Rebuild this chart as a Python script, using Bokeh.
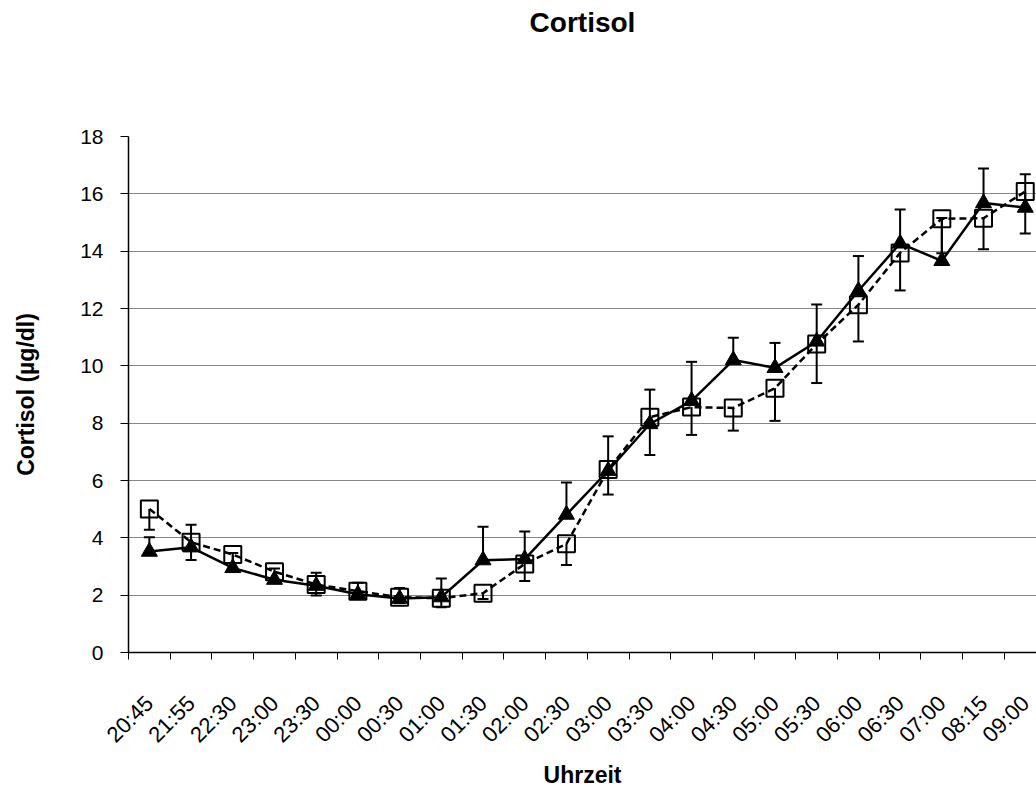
from bokeh.plotting import figure
from bokeh.models import ColumnDataSource, Range1d, FixedTicker, Whisker, TeeHead, Title
from bokeh.embed import file_html
from bokeh.resources import INLINE

times = ["20:45", "21:55", "22:30", "23:00", "23:30", "00:00", "00:30", "01:00",
         "01:30", "02:00", "02:30", "03:00", "03:30", "04:00", "04:30", "05:00",
         "05:30", "06:00", "06:30", "07:00", "08:15", "09:00"]

# series with filled triangles (solid line), error bars drawn upwards
tri_vals = [3.52, 3.67, 2.95, 2.54, 2.33, 2.03, 1.88, 1.93, 3.22, 3.26, 4.81, 6.34,
            7.97, 8.78, 10.20, 9.93, 10.85, 12.62, 14.27, 13.66, 15.68, 15.52]
tri_err = [0.50, 0.79, 0.52, 0.39, 0.45, 0.40, 0.37, 0.65, 1.17, 0.96, 1.12, 1.20,
           1.20, 1.36, 0.78, 0.87, 1.29, 1.21, 1.18, 1.50, 1.20, 1.16]

# series with open squares (dashed line), error bars drawn downwards
sq_vals = [5.01, 3.85, 3.42, 2.82, 2.37, 2.14, 1.93, 1.89, 2.07, 3.09, 3.79, 6.38,
           8.21, 8.56, 8.53, 9.22, 10.76, 12.13, 13.94, 15.13, 15.15, 16.08]
sq_err = [0.73, 0.62, 0.30, 0.30, 0.38, 0.25, 0.20, 0.31, 0.20, 0.60, 0.74, 0.87,
          1.32, 0.97, 0.79, 1.14, 1.36, 1.28, 1.31, 1.20, 1.08, 1.46]

y_ticks = [0, 2, 4, 6, 8, 10, 12, 14, 16, 18]

idx = list(range(len(times)))
tri_src = ColumnDataSource(dict(
    x=idx, y=tri_vals,
    lo=tri_vals,
    hi=[v + e for v, e in zip(tri_vals, tri_err)]))
sq_src = ColumnDataSource(dict(
    x=idx, y=sq_vals,
    lo=[v - e for v, e in zip(sq_vals, sq_err)],
    hi=sq_vals))

FONT = "Liberation Sans"

p = figure(width=1036, height=791, output_backend="svg", toolbar_location=None,
           x_range=Range1d(-0.5, 21.27), y_range=Range1d(0, 18),
           min_border_left=128, min_border_right=0, min_border_top=136,
           min_border_bottom=139)
p.outline_line_color = None
p.background_fill_color = "white"
p.border_fill_color = "white"

# spacer between frame and title
p.add_layout(Title(text=" ", text_font_size="10px", standoff=84), "above")

# title
p.title.text = "Cortisol"
p.title.align = "center"
p.title.vertical_align = "top"
p.title.text_font = FONT
p.title.text_font_size = "28px"
p.title.text_font_style = "bold"
p.title.text_color = "black"
p.title.standoff = 0

# grid
p.xgrid.visible = False
p.ygrid.ticker = FixedTicker(ticks=y_ticks[1:-1])
p.ygrid.grid_line_color = "#868686"
p.ygrid.grid_line_width = 1

# y axis
ya = p.yaxis[0]
ya.ticker = FixedTicker(ticks=y_ticks)
ya.axis_line_color = "black"
ya.axis_line_width = 1.5
ya.major_tick_line_color = "black"
ya.major_tick_out = 8
ya.major_tick_in = 0
ya.minor_tick_line_color = None
ya.major_label_standoff = 17
ya.major_label_text_font = FONT
ya.major_label_text_font_size = "21px"
ya.major_label_text_color = "black"
ya.axis_label = "Cortisol (µg/dl)"
ya.axis_label_text_font = FONT
ya.axis_label_text_font_size = "23px"
ya.axis_label_text_font_style = "bold"
ya.axis_label_text_color = "black"
ya.axis_label_standoff = 38

# x axis (categories between tick marks)
xa = p.xaxis[0]
xa.ticker = FixedTicker(ticks=idx, minor_ticks=[i - 0.5 for i in range(len(times) + 1)])
xa.major_label_overrides = {i: t for i, t in enumerate(times)}
xa.axis_line_color = "black"
xa.axis_line_width = 1.5
xa.major_tick_line_color = None
xa.minor_tick_line_color = "black"
xa.minor_tick_out = 7
xa.minor_tick_in = 0
xa.major_label_orientation = 0.785398
xa.major_label_standoff = 40
xa.major_label_text_font = FONT
xa.major_label_text_font_size = "22px"
xa.major_label_text_color = "black"
xa.axis_label = "Uhrzeit"
xa.axis_label_text_font = FONT
xa.axis_label_text_font_size = "23px"
xa.axis_label_text_font_style = "bold"
xa.axis_label_text_color = "black"
xa.axis_label_text_line_height = 1.0
xa.axis_label_standoff = 3

# squares series (dashed)
p.line("x", "y", source=sq_src, line_color="black", line_width=2.5, line_dash="7 4")
p.add_layout(Whisker(source=sq_src, base="x", upper="hi", lower="lo", dimension="height",
                     line_color="black", line_width=2, upper_head=None,
                     lower_head=TeeHead(size=11, line_color="black", line_width=2)))
p.scatter("x", "y", source=sq_src, marker="square", size=17, fill_color=None,
          line_color="black", line_width=2)

# triangles series (solid)
p.line("x", "y", source=tri_src, line_color="black", line_width=2.5)
p.add_layout(Whisker(source=tri_src, base="x", upper="hi", lower="lo", dimension="height",
                     line_color="black", line_width=2, lower_head=None,
                     upper_head=TeeHead(size=11, line_color="black", line_width=2)))
p.scatter("x", "y", source=tri_src, marker="triangle", size=16, fill_color="black",
          line_color="black", line_width=1)

open("out.html", "w").write(file_html(p, INLINE))
